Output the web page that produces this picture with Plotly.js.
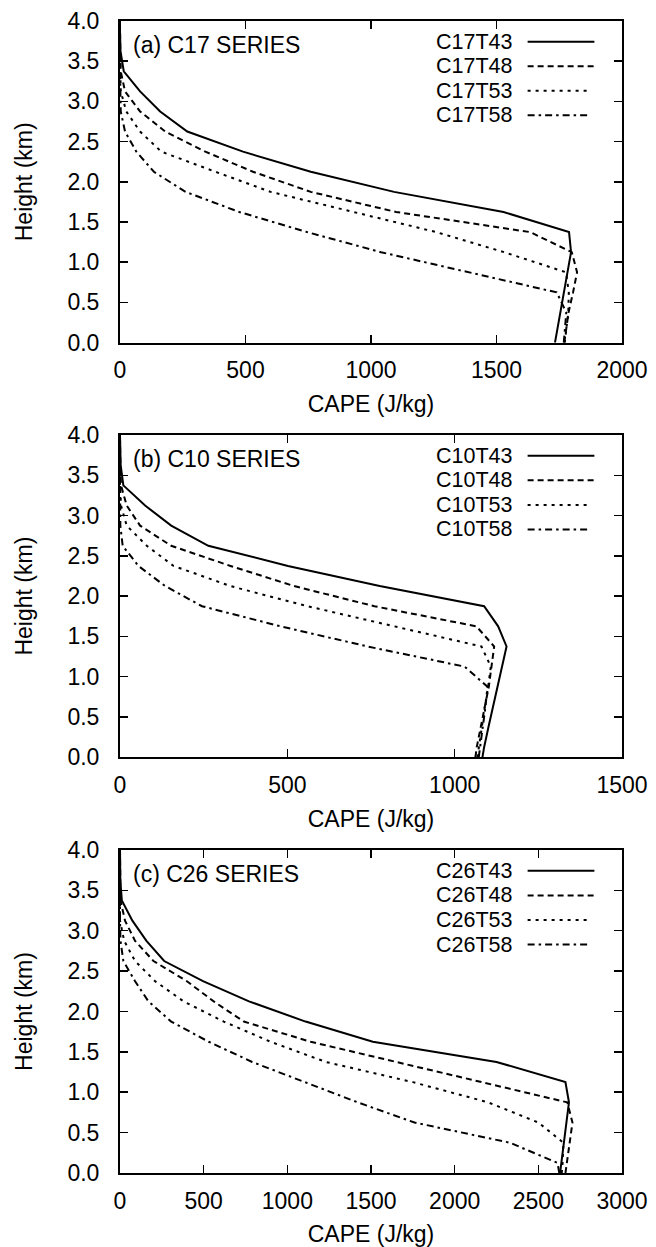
<!DOCTYPE html>
<html>
<head>
<meta charset="utf-8">
<script src="https://cdn.plot.ly/plotly-3.0.1.min.js"></script>
<style>html,body{margin:0;padding:0;background:#fff;}</style>
</head>
<body>
<div id="chart" style="width:656px;height:1247px;"></div>
<script>
// Heights (km) shared by every profile
const heights = [0, 0.125, 0.375, 0.625, 0.875, 1.125, 1.375, 1.625, 1.875, 2.125, 2.375, 2.625, 2.875, 3.125, 3.375, 3.625, 3.875, 4.0];

// (a) C17 series, CAPE (J/kg)
const C17T43 = [1733, 1740, 1755, 1769, 1783, 1797, 1789, 1528, 1092, 760, 490, 268, 160, 80, 15, 2, 0, 0];
const C17T48 = [1770, 1775, 1787, 1805, 1821, 1800, 1634, 1100, 760, 530, 340, 180, 80, 20, 3, 1, 0, 0];
const C17T53 = [1772, 1777, 1786, 1788, 1777, 1530, 1260, 930, 600, 380, 165, 80, 25, 3, 0, 0, 0, 0];
const C17T58 = [1768, 1772, 1778, 1740, 1390, 1040, 745, 475, 261, 135, 65, 20, 3, 0, 0, 0, 0, 0];

// (b) C10 series
const C10T43 = [1083, 1088, 1101, 1114, 1127, 1140, 1155, 1130, 1088, 776, 502, 264, 153, 75, 10, 2, 0, 0];
const C10T48 = [1062, 1066, 1078, 1090, 1102, 1110, 1118, 1065, 760, 520, 330, 153, 60, 20, 3, 1, 0, 0];
const C10T53 = [1068, 1072, 1082, 1090, 1100, 1108, 1080, 820, 560, 330, 160, 80, 20, 3, 0, 0, 0, 0];
const C10T58 = [1072, 1076, 1085, 1092, 1098, 1030, 740, 480, 245, 135, 55, 8, 1, 0, 0, 0, 0, 0];

// (c) C26 series
const C26T43 = [2630, 2638, 2653, 2668, 2683, 2662, 2250, 1511, 1109, 771, 496, 264, 158, 74, 11, 2, 0, 0];
const C26T48 = [2662, 2670, 2690, 2704, 2673, 2160, 1650, 1140, 740, 560, 400, 200, 90, 30, 3, 1, 0, 0];
const C26T53 = [2640, 2645, 2650, 2500, 2200, 1750, 1230, 900, 620, 380, 210, 90, 25, 0, 0, 0, 0, 0];
const C26T58 = [2625, 2615, 2330, 1760, 1420, 1100, 790, 530, 306, 170, 90, 20, 3, 0, 0, 0, 0, 0];

const panelTitles = ["(a) C17 SERIES", "(b) C10 SERIES", "(c) C26 SERIES"];
const seriesNames = [
  ["C17T43", "C17T48", "C17T53", "C17T58"],
  ["C10T43", "C10T48", "C10T53", "C10T58"],
  ["C26T43", "C26T48", "C26T53", "C26T58"]
];
const seriesValues = [
  [C17T43, C17T48, C17T53, C17T58],
  [C10T43, C10T48, C10T53, C10T58],
  [C26T43, C26T48, C26T53, C26T58]
];
const xMax = [2000, 1500, 3000];
const yTickVals = [0, 0.5, 1.0, 1.5, 2.0, 2.5, 3.0, 3.5, 4.0];

const dashes = ["solid", "6px,4px", "3px,5px", "7px,4px,2.5px,4px"];
const FONT = "Liberation Sans, Arial, sans-serif";
const FS = 23;
const KEY_FS = 21.5;

const suffix = ["", "2", "3"];
const yDomains = [[0.7208, 1.0], [0.3609, 0.6406], [0.0, 0.2804]];

const traces = [];
const annotations = [];
const shapes = [];
const layout = {
  width: 656, height: 1247,
  margin: {l: 120, r: 34, t: 21, b: 74},
  paper_bgcolor: "#fff", plot_bgcolor: "#fff",
  font: {family: FONT, size: FS, color: "#000"},
  showlegend: false,
  hovermode: false
};

for (let p = 0; p < 3; p++) {
  const s = suffix[p];
  const xa = "x" + s, ya = "y" + s;
  for (let k = 0; k < 4; k++) {
    traces.push({
      type: "scatter", mode: "lines",
      x: seriesValues[p][k], y: heights,
      xaxis: xa, yaxis: ya,
      name: seriesNames[p][k],
      line: {color: "#000", width: 2, dash: dashes[k]},
      cliponaxis: true
    });
    // gnuplot-style key: text then line sample
    const yy = 0.9354 - k * 0.0761;
    annotations.push({
      xref: xa + " domain", yref: ya + " domain",
      x: 0.784, y: yy, xanchor: "right", yanchor: "middle",
      text: seriesNames[p][k], showarrow: false, borderpad: 0,
      font: {family: FONT, size: KEY_FS, color: "#000"}
    });
    shapes.push({
      type: "line", xref: xa + " domain", yref: ya + " domain",
      x0: 0.812, x1: k >= 2 ? 0.937 : 0.945, y0: yy, y1: yy,
      line: {color: "#000", width: 2, dash: dashes[k]}
    });
  }
  annotations.push({
    xref: xa + " domain", yref: ya + " domain",
    x: 0.022, y: 0.925, xanchor: "left", yanchor: "middle",
    text: panelTitles[p], showarrow: false,
    font: {family: FONT, size: FS, color: "#000"}
  });
  layout["xaxis" + s] = {
    domain: [0, 1], anchor: ya, range: [0, xMax[p]], dtick: 500, tick0: 0,
    ticks: "inside", ticklen: 8, tickwidth: 1.5, tickcolor: "#000",
    mirror: "ticks", showline: true, linewidth: 2, linecolor: "#000",
    showgrid: false, zeroline: false, fixedrange: true,
    ticklabelstandoff: 6,
    tickfont: {family: FONT, size: FS, color: "#000"},
    title: {text: "CAPE (J/kg)", standoff: 14, font: {family: FONT, size: FS, color: "#000"}}
  };
  layout["yaxis" + s] = {
    domain: yDomains[p], anchor: xa, range: [0, 4],
    tickvals: yTickVals, tickformat: ".1f",
    ticks: "inside", ticklen: 8, tickwidth: 1.5, tickcolor: "#000",
    mirror: "ticks", showline: true, linewidth: 2, linecolor: "#000",
    showgrid: false, zeroline: false, fixedrange: true,
    ticklabelstandoff: 14,
    tickfont: {family: FONT, size: FS, color: "#000"},
    title: {text: "Height (km)", standoff: 28, font: {family: FONT, size: FS, color: "#000"}}
  };
}
layout.annotations = annotations;
layout.shapes = shapes;

Plotly.newPlot("chart", traces, layout, {staticPlot: true, displayModeBar: false});
</script>
</body>
</html>
